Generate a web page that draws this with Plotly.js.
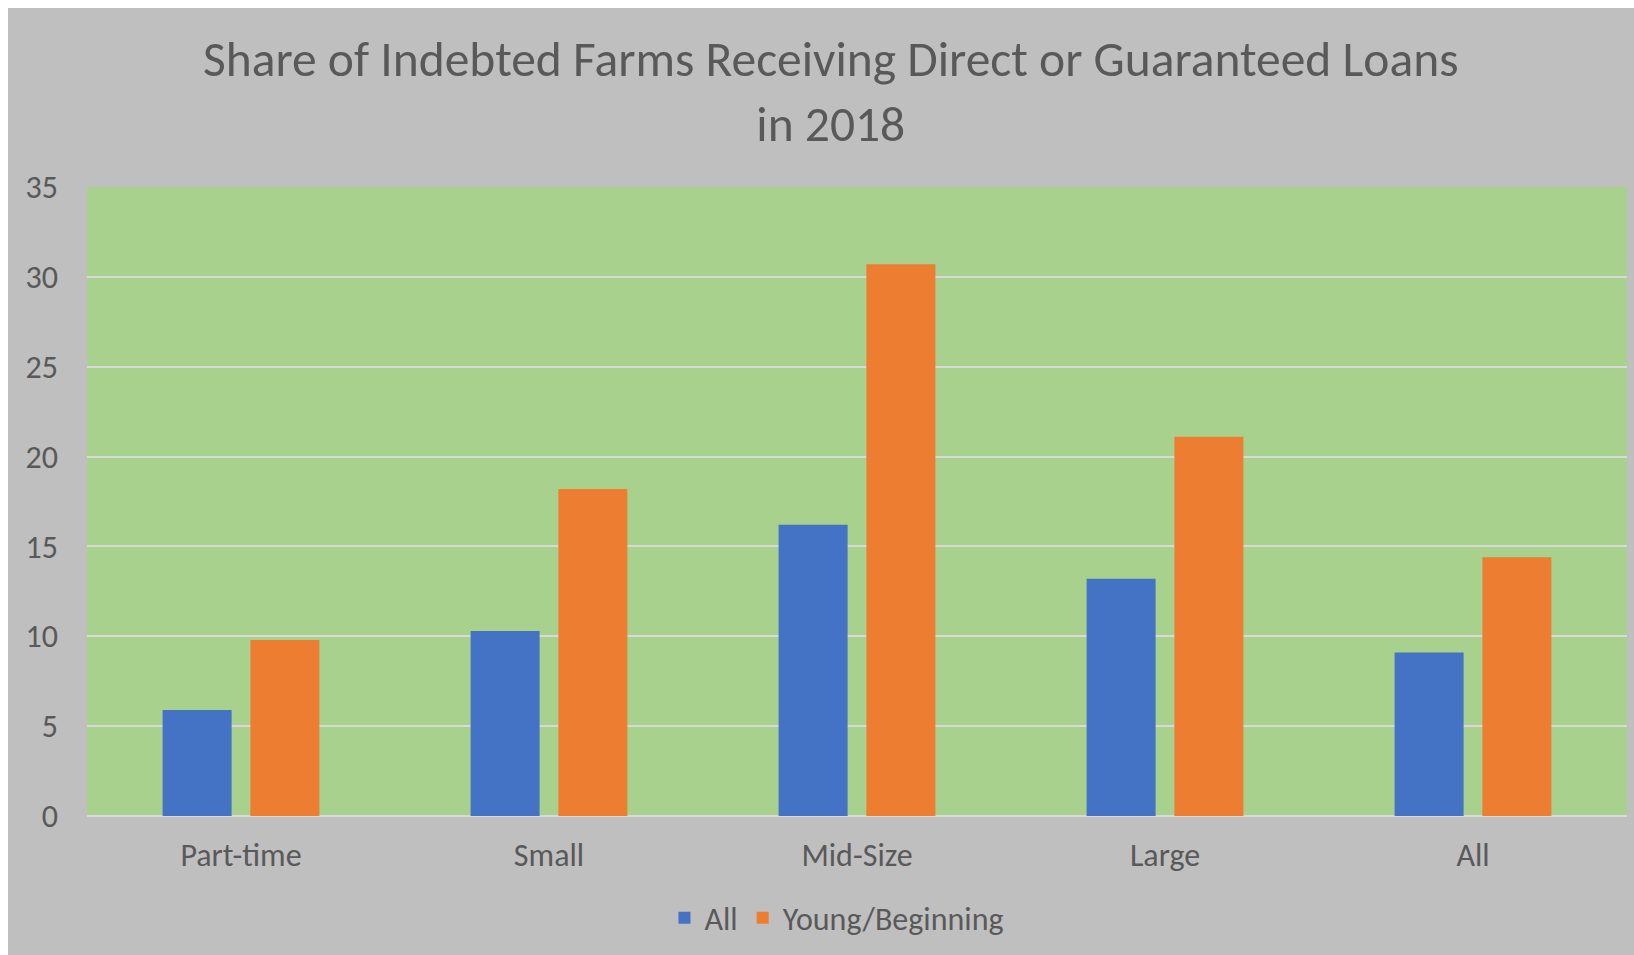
<!DOCTYPE html>
<html>
<head>
<meta charset="utf-8">
<script src="https://cdn.plot.ly/plotly-3.0.1.min.js"></script>
<style>
  html, body { margin: 0; padding: 0; background: #ffffff; }
  #chart { position: absolute; left: 8px; top: 8px; width: 1626px; height: 947px; }
</style>
</head>
<body>
<div id="chart"></div>
<script>
const categories = ["Part-time", "Small", "Mid-Size", "Large", "All"];
const allFarms = [5.9, 10.3, 16.2, 13.2, 9.1];
const youngBeginning = [9.8, 18.2, 30.7, 21.1, 14.4];
const seriesNames = ["All", "Young/Beginning"];
const yTicks = [0, 5, 10, 15, 20, 25, 30, 35];

const FONT = "Carlito, 'Open Sans', 'Noto Sans', sans-serif";
const TXT = "#595959";

const traces = [
  { type: "bar", name: seriesNames[0], x: categories, y: allFarms,
    marker: { color: "#4472C4" }, hoverinfo: "x+y" },
  { type: "bar", name: seriesNames[1], x: categories, y: youngBeginning,
    marker: { color: "#ED7D31" }, hoverinfo: "x+y" }
];

const layout = {
  width: 1626, height: 947,
  paper_bgcolor: "#BFBFBF",
  plot_bgcolor: "#A9D18E",
  margin: { l: 79, r: 7, t: 179, b: 139 },
  font: { family: FONT, color: TXT, size: 32 },
  title: {
    text: "Share of Indebted Farms Receiving Direct or Guaranteed Loans<br>in 2018",
    font: { family: FONT, size: 49.5, color: TXT },
    xref: "container", x: 0.506, xanchor: "center",
    yref: "container", y: 0.928, yanchor: "top"
  },
  barmode: "group",
  bargap: 0.43,
  bargroupgap: 0.214,
  xaxis: {
    type: "category",
    showgrid: false, zeroline: false, showline: false,
    ticks: "",
    ticklabelstandoff: 17,
    tickfont: { family: FONT, size: 32, color: TXT }
  },
  yaxis: {
    range: [0, 35],
    tickvals: yTicks,
    ticktext: yTicks.map(String),
    showgrid: true, gridcolor: "#D9D9D9", gridwidth: 2,
    zeroline: true, zerolinecolor: "#D9D9D9", zerolinewidth: 2,
    showline: false, ticks: "",
    ticklabelstandoff: 28,
    tickfont: { family: FONT, size: 32, color: TXT }
  },
  showlegend: true,
  legend: {
    orientation: "h",
    xref: "paper", x: 0.487, xanchor: "center",
    yref: "paper", y: -0.162, yanchor: "middle",
    font: { family: FONT, size: 32, color: TXT },
    bgcolor: "rgba(0,0,0,0)",
    traceorder: "normal"
  }
};

Plotly.newPlot("chart", traces, layout, { displayModeBar: false, responsive: false });
</script>
</body>
</html>
